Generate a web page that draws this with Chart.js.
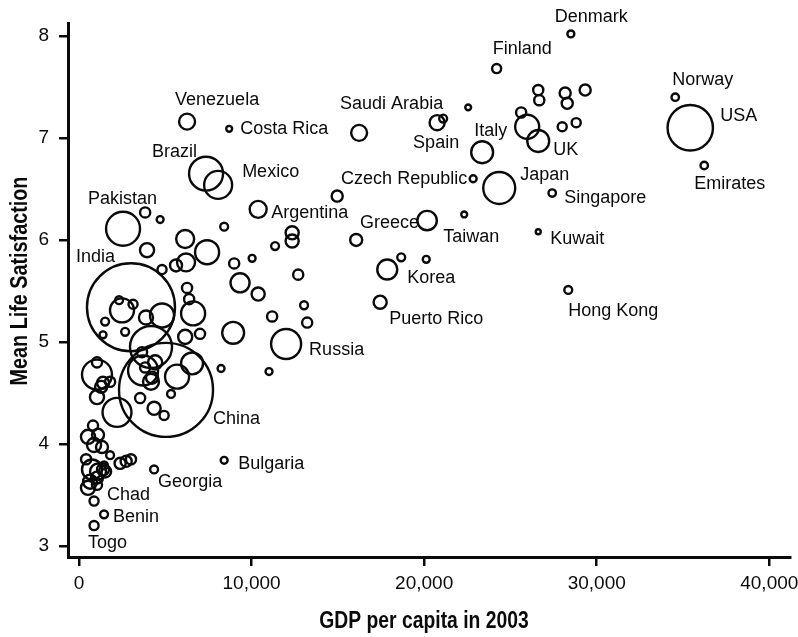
<!DOCTYPE html>
<html>
<head>
<meta charset="utf-8">
<script src="https://cdn.jsdelivr.net/npm/chart.js@4"></script>
<style>
  html, body { margin: 0; padding: 0; background: #fff; }
  #wrap { width: 798px; height: 637px; }
</style>
</head>
<body>
<div id="wrap"><canvas id="chart"></canvas></div>
<script>
// Données (pays, PIB par habitant 2003, satisfaction moyenne, population en millions)
const countries = [
  'Denmark', 'Finland', 'Norway', 'USA', 'Emirates', 'Venezuela', 'Costa Rica', 'Saudi Arabia',
  'Spain', 'Italy', 'UK', 'Brazil', 'Mexico', 'Czech Republic', 'Japan', 'Singapore',
  'Pakistan', 'Argentina', 'Greece', 'Taiwan', 'Kuwait', 'India', 'Korea', 'Puerto Rico',
  'Hong Kong', 'Russia', 'China', 'Bulgaria', 'Georgia', 'Chad', 'Benin', 'Togo',
  '', '', '', '', '', '', '', '', '', '', '', '', '', '', '', '', '', '', '', '', '', '', '', '', '', '', '', '', '', '', '',
  '', '', '', '', '', '', '', '', '', '', '', '', '', '', '', '', '', '', '', '', '', '', '', '', '', '', '', '', '', '', '',
  '', '', '', '', '', '', '', '', '', '', '', '', '', '', '', '', '', '', '', '', '', '', '', '', '', '', '', '', '', '', ''
];

const gdpPerCapita = [
  28500, 24200, 34550, 35420, 36230, 6260, 8700, 21100,
  20750, 25970, 26610, 7360, 8060, 22840, 24350, 27420,
  2550, 10380, 20170, 22320, 26610, 3010, 17860, 17450,
  28350, 12000, 5040, 8410, 4350, 870, 1450, 870,
  22550, 16230, 23360, 26610, 26670, 28170, 28290, 29330, 25620, 28000, 28810,
  14960, 16060, 18670, 20120,
  3830, 4700, 8410, 6150, 7420, 3940, 8990, 10030, 6200, 5620, 4810,
  12350, 12350, 11360, 12700, 9330, 10380, 13040, 11190, 13220, 8930, 8230, 11010,
  2490, 2320, 3130, 1510, 2670, 1390, 3880, 4810, 6260, 6380, 6610, 7010, 6150,
  4170, 3650, 4410, 6550, 5680, 3710, 3830, 4170, 4230, 3540, 5330, 4350, 4930, 2200,
  1040, 1040, 1390, 1800, 1280, 1040, 810, 520, 1100, 870, 1330,
  750, 1100, 1390, 640, 1040, 520, 1040, 1510, 1450, 2380, 2730, 3010, 410, 1800
];

const lifeSatisfaction = [
  8.02, 7.68, 7.40, 7.10, 6.73, 7.16, 7.09, 7.19,
  7.15, 7.11, 6.97, 6.65, 6.54, 6.60, 6.51, 6.46,
  6.11, 6.30, 6.19, 6.25, 6.08, 5.34, 5.71, 5.39,
  5.51, 4.98, 4.53, 3.84, 3.75, 3.44, 3.31, 3.20,
  7.30, 7.05, 6.86, 7.47, 7.37, 7.44, 7.34, 7.47, 7.25, 7.11, 7.15,
  6.43, 6.00, 5.83, 5.81,
  6.27, 6.20, 6.13, 6.01, 5.88, 5.90, 5.77, 5.82, 5.78, 5.75, 5.71,
  6.07, 5.99, 5.94, 5.66, 5.58, 5.47, 5.36, 5.25, 5.19, 5.09, 4.74, 4.71,
  5.31, 5.41, 5.37, 5.20, 5.10, 5.07, 5.24, 5.26, 5.53, 5.42, 5.28, 5.08, 5.05,
  4.95, 4.90, 4.80, 4.79, 4.66, 4.72, 4.75, 4.61, 4.65, 4.45, 4.49, 4.35, 4.28, 4.31,
  4.68, 4.80, 4.60, 4.61, 4.56, 4.46, 4.18, 4.07, 4.09, 3.99, 3.97,
  3.75, 3.73, 3.75, 3.63, 3.67, 3.57, 3.60, 3.73, 3.79, 3.81, 3.83, 3.85, 3.85, 3.89
];

const populationM = [
  7, 12, 8, 300, 8, 37, 5, 9,
  33, 84, 70, 168, 114, 7, 149, 8,
  168, 42, 55, 5, 3.6, 1128, 58, 25,
  9, 131, 1287, 7, 9, 12, 9, 12,
  5, 37, 70, 15, 15, 18, 18, 18, 15, 12, 12,
  18, 21, 9, 7,
  15, 7, 9, 47, 84, 29, 15, 7, 47, 21, 12,
  25, 25, 9, 15, 53, 25, 9, 15, 15, 70, 7, 7,
  84, 9, 12, 9, 9, 7, 29, 84, 15, 15, 84, 15, 29,
  257, 15, 29, 70, 84, 131, 15, 37, 21, 15, 9, 25, 12, 122,
  131, 15, 21, 15, 21, 29, 15, 29, 21, 29, 21,
  58, 37, 21, 29, 21, 29, 15, 21, 9, 18, 18, 15, 15, 9
];

const xTicks = [0, 10000, 20000, 30000, 40000];
const yTicks = [3, 4, 5, 6, 7, 8];

// Placement des étiquettes (décalage en pixels depuis le centre du cercle)
const labelPlacement = {
  'Denmark': [-16, -17, 'left'],
  'Finland': [-4, -20, 'left'],
  'Norway': [-3, -17, 'left'],
  'USA': [30, -12, 'left'],
  'Emirates': [-10, 19, 'left'],
  'Venezuela': [-12, -22, 'left'],
  'Costa Rica': [11, 0, 'left'],
  'Saudi Arabia': [0, -15, 'right'],
  'Spain': [-24, 20, 'left'],
  'Italy': [-20, 4, 'right'],
  'UK': [15, 9, 'left'],
  'Brazil': [-9, -22, 'right'],
  'Mexico': [24, -13, 'left'],
  'Czech Republic': [-6, 0, 'right'],
  'Japan': [21, -13, 'left'],
  'Singapore': [12, 5, 'left'],
  'Pakistan': [34, -30, 'right'],
  'Argentina': [13, 4, 'left'],
  'Greece': [-8, 2, 'right'],
  'Taiwan': [-21, 23, 'left'],
  'Kuwait': [12, 7, 'left'],
  'India': [-16, -50, 'right'],
  'Korea': [20, 8, 'left'],
  'Puerto Rico': [9, 17, 'left'],
  'Hong Kong': [0, 21, 'left'],
  'Russia': [23, 6, 'left'],
  'China': [47, 29, 'left'],
  'Bulgaria': [14, 4, 'left'],
  'Georgia': [4, 13, 'left'],
  'Chad': [13, -6, 'left'],
  'Benin': [9, 3, 'left'],
  'Togo': [-6, 17, 'left']
};

// Rayon en pixels proportionnel à la racine de la population
const RADIUS_PER_SQRT_POP = 1.31;

const points = gdpPerCapita.map((g, i) => ({
  x: g,
  y: lifeSatisfaction[i],
  r: RADIUS_PER_SQRT_POP * Math.sqrt(populationM[i]),
  name: countries[i]
}));

const INK = '#0a0a0a';

// Plugin qui écrit le nom des pays à côté de leur cercle
const countryLabels = {
  id: 'countryLabels',
  afterDatasetsDraw(chart) {
    const { ctx } = chart;
    const meta = chart.getDatasetMeta(0);
    ctx.save();
    ctx.font = '18px "Liberation Sans", Arial, sans-serif';
    ctx.fillStyle = INK;
    ctx.textBaseline = 'middle';
    meta.data.forEach((el, i) => {
      const place = labelPlacement[countries[i]];
      if (!place) return;
      ctx.textAlign = place[2];
      ctx.fillText(countries[i], el.x + place[0], el.y + place[1]);
    });
    ctx.restore();
  }
};

// Titres des axes dessinés à la main, en gras resserré (pas de police étroite disponible)
const axisTitles = {
  id: 'axisTitles',
  afterDraw(chart) {
    const { ctx } = chart;
    ctx.save();
    ctx.fillStyle = INK;
    ctx.font = 'bold 23px "Liberation Sans", Arial, sans-serif';
    ctx.textAlign = 'center';
    ctx.textBaseline = 'middle';
    // titre de l'axe x
    ctx.save();
    ctx.translate(424, 622);
    ctx.scale(0.84, 1);
    ctx.fillText('GDP per capita in 2003', 0, 0);
    ctx.restore();
    // titre de l'axe y
    ctx.save();
    ctx.translate(21, 281);
    ctx.rotate(-Math.PI / 2);
    ctx.scale(0.86, 1);
    ctx.fillText('Mean Life Satisfaction', 0, 0);
    ctx.restore();
    ctx.restore();
  }
};

const tickFont = { family: '"Liberation Sans", Arial, sans-serif', size: 19 };

new Chart(document.getElementById('chart').getContext('2d'), {
  type: 'bubble',
  data: {
    datasets: [{
      data: points,
      backgroundColor: 'rgba(0,0,0,0)',
      borderColor: INK,
      borderWidth: 2.4,
      hoverBorderWidth: 2.4,
      clip: false
    }]
  },
  options: {
    responsive: true,
    maintainAspectRatio: false,
    animation: false,
    layout: { autoPadding: false, padding: { top: 23, right: 8, left: 0, bottom: 0 } },
    plugins: {
      legend: { display: false },
      tooltip: { enabled: false }
    },
    scales: {
      x: {
        type: 'linear',
        position: 'bottom',
        min: -640,
        max: 41200,
        afterBuildTicks: scale => { scale.ticks = xTicks.map(v => ({ value: v })); },
        afterFit: scale => { scale.height = 80; scale.paddingLeft = 0; scale.paddingRight = 0; },
        border: { display: true, color: INK, width: 3 },
        grid: { drawOnChartArea: false, drawTicks: true, tickLength: 9, color: INK, lineWidth: 2.5 },
        ticks: {
          font: tickFont,
          color: INK,
          padding: 6,
          maxRotation: 0,
          callback: v => v.toLocaleString('en-US')
        }
      },
      y: {
        type: 'linear',
        position: 'left',
        min: 2.892,
        max: 8.127,
        afterBuildTicks: scale => { scale.ticks = yTicks.map(v => ({ value: v })); },
        afterFit: scale => { scale.width = 68; scale.paddingTop = 0; scale.paddingBottom = 0; },
        border: { display: true, color: INK, width: 3 },
        grid: { drawOnChartArea: false, drawTicks: true, tickLength: 9, color: INK, lineWidth: 2.5 },
        ticks: {
          font: tickFont,
          color: INK,
          padding: 10
        }
      }
    }
  },
  plugins: [countryLabels, axisTitles]
});
</script>
</body>
</html>
